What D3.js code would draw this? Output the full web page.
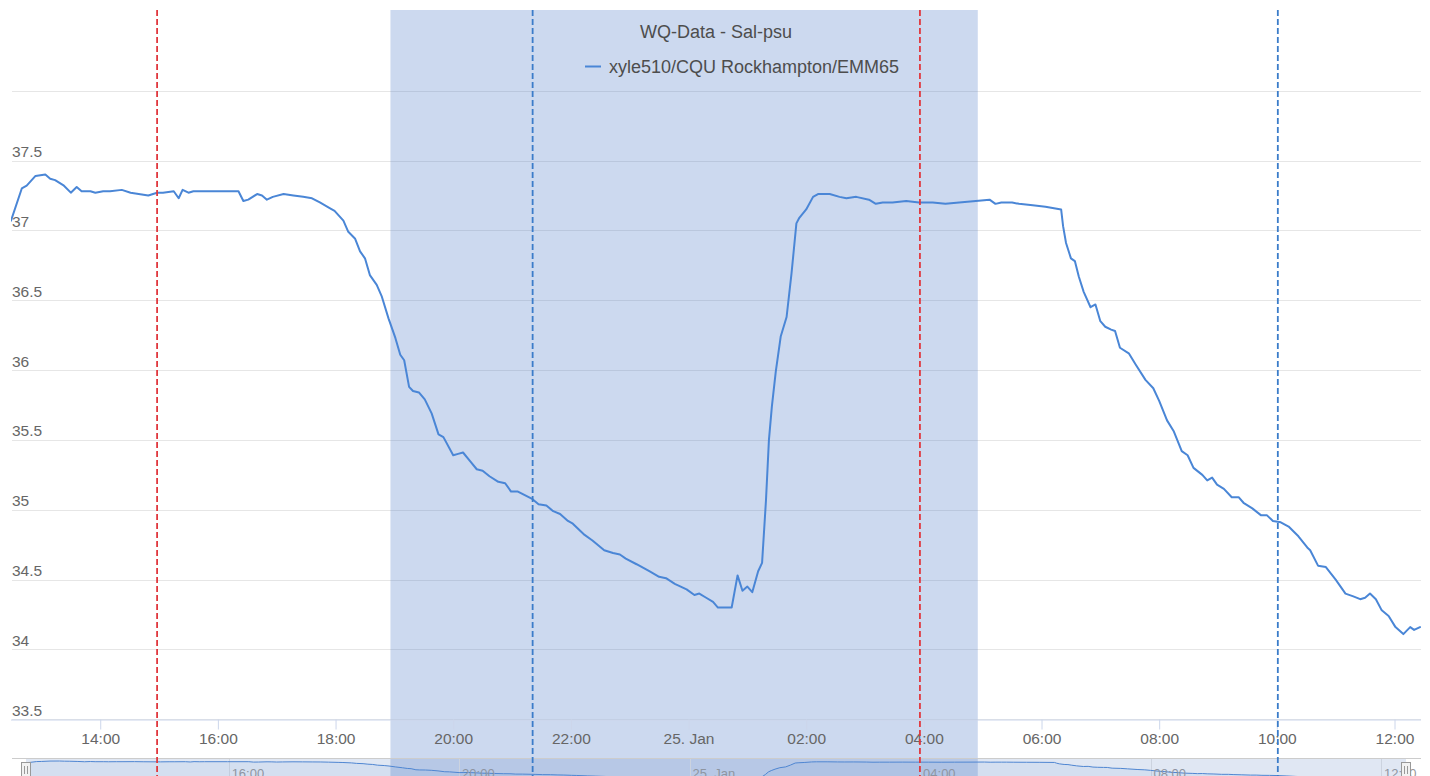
<!DOCTYPE html>
<html>
<head>
<meta charset="utf-8">
<script src="https://cdn.jsdelivr.net/npm/d3@7"></script>
<style>
  html, body { margin: 0; padding: 0; background: #fff; }
  svg { display: block; font-family: "Liberation Sans", Arial, Helvetica, sans-serif; }
</style>
</head>
<body>
<svg id="chart" width="1430" height="776"></svg>
<script>
// ---- data ---------------------------------------------------------------
const chartTitle = "WQ-Data - Sal-psu";
const seriesName = "xyle510/CQU Rockhampton/EMM65";
const startDate = "2016-01-24";

// sample times (HH:MM, rolling over midnight into the next day)
const times = [
  "12:29","12:40","12:45","12:54","13:04","13:09","13:14","13:23","13:30","13:36",
  "13:41","13:50","13:55","14:03","14:10","14:22","14:31","14:49","14:58","15:04",
  "15:15","15:20","15:24","15:30","15:35","15:59","16:21","16:26","16:31","16:40",
  "16:45","16:50","16:56","17:07","17:17","17:27","17:36","17:44","17:54","17:59",
  "18:08","18:13","18:20","18:25","18:30","18:35","18:42","18:47","18:54","19:01",
  "19:06","19:10","19:15","19:19","19:25","19:31","19:38","19:45","19:50","20:00",
  "20:05","20:10","20:17","20:24","20:30","20:37","20:46","20:53","20:59","21:06",
  "21:20","21:27","21:35","21:42","21:49","21:57","22:02","22:14","22:22","22:34",
  "22:43","22:50","22:56","23:07","23:20","23:30","23:37","23:46","23:58","00:06",
  "00:11","00:18","00:25","00:30","00:44","00:50","00:55","01:00","01:05","01:11",
  "01:15","01:19","01:22","01:25","01:29","01:34","01:40","01:45","01:50","01:53",
  "02:00","02:07","02:12","02:24","02:34","02:41","02:51","03:04","03:11","03:18",
  "03:28","03:42","03:55","04:09","04:22","04:36","04:53","05:07","05:13","05:19",
  "05:25","05:30","05:37","05:51","06:04","06:20","06:22","06:25","06:30","06:34",
  "06:38","06:43","06:50","06:55","07:00","07:05","07:11","07:15","07:20","07:29",
  "07:36","07:46","07:54","08:00","08:08","08:15","08:23","08:29","08:35","08:44",
  "08:49","08:54","08:59","09:06","09:14","09:21","09:26","09:35","09:44","09:50",
  "09:56","10:04","10:12","10:22","10:31","10:34","10:42","10:50","11:00","11:10",
  "11:18","11:25","11:30","11:35","11:41","11:47","11:54","12:01","12:09","12:16",
  "12:20","12:26"
];

// salinity, psu
const salinity = [
  37.07,37.30,37.32,37.39,37.40,37.37,37.36,37.32,37.27,37.31,
  37.28,37.28,37.27,37.28,37.28,37.29,37.27,37.25,37.27,37.27,
  37.28,37.23,37.29,37.27,37.28,37.28,37.28,37.21,37.22,37.26,
  37.25,37.22,37.24,37.26,37.25,37.24,37.23,37.20,37.16,37.14,
  37.07,36.99,36.94,36.85,36.80,36.68,36.61,36.53,36.37,36.23,
  36.11,36.07,35.88,35.85,35.84,35.79,35.69,35.54,35.52,35.39,
  35.40,35.41,35.35,35.29,35.28,35.24,35.20,35.19,35.13,35.13,
  35.08,35.04,35.03,34.99,34.97,34.92,34.90,34.82,34.78,34.71,
  34.69,34.68,34.65,34.61,34.56,34.52,34.51,34.47,34.43,34.39,
  34.40,34.37,34.34,34.30,34.30,34.53,34.42,34.45,34.41,34.56,
  34.62,35.07,35.50,35.74,35.99,36.24,36.38,36.69,37.05,37.09,
  37.15,37.24,37.26,37.26,37.24,37.23,37.24,37.22,37.19,37.20,
  37.20,37.21,37.20,37.20,37.19,37.20,37.21,37.22,37.19,37.20,
  37.20,37.20,37.19,37.18,37.17,37.15,37.03,36.91,36.80,36.78,
  36.67,36.56,36.45,36.47,36.35,36.31,36.29,36.28,36.16,36.12,
  36.04,35.93,35.87,35.78,35.64,35.56,35.42,35.39,35.30,35.25,
  35.21,35.23,35.18,35.15,35.09,35.09,35.05,35.01,34.96,34.96,
  34.92,34.91,34.88,34.81,34.73,34.71,34.60,34.59,34.50,34.40,
  34.38,34.36,34.37,34.40,34.36,34.28,34.24,34.16,34.11,34.16,
  34.14,34.16
];

const yTicks = [33.5, 34, 34.5, 35, 35.5, 36, 36.5, 37, 37.5, 38];

// tide markers and the night-time shading
const highTides = ["2016-01-24 14:58", "2016-01-25 03:56"];
const lowTides  = ["2016-01-24 21:21", "2016-01-25 10:01"];
const nightBand = ["2016-01-24 18:56", "2016-01-25 04:55"];

// ---- build records ------------------------------------------------------
const parse = d3.utcParse("%Y-%m-%d %H:%M");
let day = parse(startDate + " 00:00"), prevMin = -1;
const data = times.map((t, i) => {
  const [h, m] = t.split(":").map(Number);
  const mins = h * 60 + m;
  if (mins < prevMin) day = d3.utcDay.offset(day, 1);
  prevMin = mins;
  return { date: new Date(day.getTime() + mins * 60000), value: salinity[i] };
});

// ---- layout -------------------------------------------------------------
const W = 1430, H = 776;
const plot = { left: 11, right: 1420, top: 90.7, bottom: 719.3 };
const lineColor = "#4a86d6";
const textColor = "#4d4d4d";
const labelColor = "#666666";

const svg = d3.select("#chart");
svg.append("rect").attr("width", W).attr("height", H).attr("fill", "#fff");

const x = d3.scaleUtc()
  .domain(d3.extent(data, d => d.date))
  .range([plot.left, plot.right]);
const y = d3.scaleLinear()
  .domain([yTicks[0], yTicks[yTicks.length - 1]])
  .range([plot.bottom, plot.top]);

const crisp = v => Math.round(v) + 0.5;

// horizontal grid
svg.append("g").selectAll("line").data(yTicks).join("line")
  .attr("x1", 12).attr("x2", 1421)
  .attr("y1", d => crisp(y(d))).attr("y2", d => crisp(y(d)))
  .attr("stroke", "#e6e6e6").attr("stroke-width", 1);

// night shading
svg.append("rect")
  .attr("x", x(parse(nightBand[0])))
  .attr("width", x(parse(nightBand[1])) - x(parse(nightBand[0])))
  .attr("y", 10).attr("height", H - 10)
  .attr("fill", "rgba(66,113,196,0.27)");

// x axis
const fmtTime = d3.utcFormat("%H:%M"), fmtDay = d3.utcFormat("%-d. %b");
const xAxis = d3.axisBottom(x)
  .ticks(d3.utcHour.every(2))
  .tickFormat(d => d.getUTCHours() === 0 && d.getUTCMinutes() === 0 ? fmtDay(d) : fmtTime(d))
  .tickSizeInner(10).tickSizeOuter(0);
const gx = svg.append("g").attr("transform", `translate(0,${crisp(plot.bottom)})`).call(xAxis);
gx.select(".domain").attr("stroke", "#ccd6eb").attr("d", `M${plot.left},0.5H1421`);
gx.selectAll(".tick line").attr("stroke", "#ccd6eb");
gx.selectAll(".tick text")
  .attr("y", 24.5).attr("dy", null)
  .attr("fill", labelColor)
  .style("font-size", "15.5px")
  .style("font-family", '"Liberation Sans", Arial, sans-serif');

// y labels (top label hidden, stock-chart style)
svg.append("g").selectAll("text").data(yTicks.slice(0, -1)).join("text")
  .attr("x", 12).attr("y", d => y(d) - 3.5)
  .attr("fill", labelColor).style("font-size", "15.5px")
  .text(d => d);

// salinity line
svg.append("clipPath").attr("id", "plotClip")
  .append("rect").attr("x", plot.left).attr("y", 10)
  .attr("width", plot.right - plot.left + 1).attr("height", plot.bottom - 10);
svg.append("path").datum(data)
  .attr("clip-path", "url(#plotClip)")
  .attr("fill", "none").attr("stroke", lineColor).attr("stroke-width", 2)
  .attr("stroke-linejoin", "round").attr("stroke-linecap", "round")
  .attr("d", d3.line().x(d => x(d.date)).y(d => y(d.value)));

// title and legend
svg.append("text").attr("x", (plot.left + 1421) / 2).attr("y", 38)
  .attr("text-anchor", "middle").attr("fill", textColor)
  .style("font-size", "18px").text(chartTitle);
svg.append("line").attr("x1", 585).attr("x2", 601).attr("y1", 66.5).attr("y2", 66.5)
  .attr("stroke", lineColor).attr("stroke-width", 2);
svg.append("text").attr("x", 609).attr("y", 73)
  .attr("fill", textColor).style("font-size", "18px").text(seriesName);

// ---- navigator ----------------------------------------------------------
const navTop = 758.5, navBottom = 800;
const navX = d3.scaleUtc().domain(x.domain()).range([26, 1406]);
const navY = d3.scaleLinear().domain(d3.extent(salinity)).range([780, 761]);

const nav = svg.append("g");
nav.append("g").selectAll("line").data(navX.ticks(d3.utcHour.every(4))).join("line")
  .attr("x1", d => crisp(navX(d))).attr("x2", d => crisp(navX(d)))
  .attr("y1", navTop).attr("y2", H)
  .attr("stroke", "#e6e6e6");
nav.append("path").datum(data)
  .attr("fill", "rgba(74,134,214,0.08)")
  .attr("d", d3.area().x(d => navX(d.date)).y0(navBottom).y1(d => navY(d.value)));
nav.append("path").datum(data)
  .attr("fill", "none").attr("stroke", lineColor).attr("stroke-width", 1)
  .attr("d", d3.line().x(d => navX(d.date)).y(d => navY(d.value)));
nav.append("g").selectAll("text").data(navX.ticks(d3.utcHour.every(4))).join("text")
  .attr("x", d => navX(d) + 3).attr("y", 778)
  .attr("fill", "#999").style("font-size", "13px")
  .text(d => d.getUTCHours() === 0 ? fmtDay(d) : fmtTime(d));
// selected range mask
nav.append("rect")
  .attr("x", navX.range()[0]).attr("width", navX.range()[1] - navX.range()[0])
  .attr("y", navTop).attr("height", navBottom - navTop)
  .attr("fill", "rgba(102,133,194,0.2)");
nav.append("line").attr("x1", 12).attr("x2", 1421).attr("y1", navTop).attr("y2", navTop)
  .attr("stroke", "#cccccc");
// range handles
navX.range().forEach(hx => {
  const g = nav.append("g").attr("transform", `translate(${Math.round(hx)},762)`);
  g.append("rect").attr("x", -4.5).attr("y", 0.5).attr("width", 9).attr("height", 15)
    .attr("fill", "#f2f2f2").attr("stroke", "#999");
  [-1.5, 1.5].forEach(o => g.append("line")
    .attr("x1", o).attr("x2", o).attr("y1", 4).attr("y2", 12).attr("stroke", "#999"));
});

// tide markers
const drawTide = (list, color) => svg.append("g").selectAll("line").data(list).join("line")
  .attr("x1", d => x(parse(d))).attr("x2", d => x(parse(d)))
  .attr("y1", 10).attr("y2", H)
  .attr("stroke", color).attr("stroke-width", 1.8).attr("stroke-dasharray", "6,3");
drawTide(highTides, "#e0383e");
drawTide(lowTides, "#3b7cc9");
</script>
</body>
</html>
